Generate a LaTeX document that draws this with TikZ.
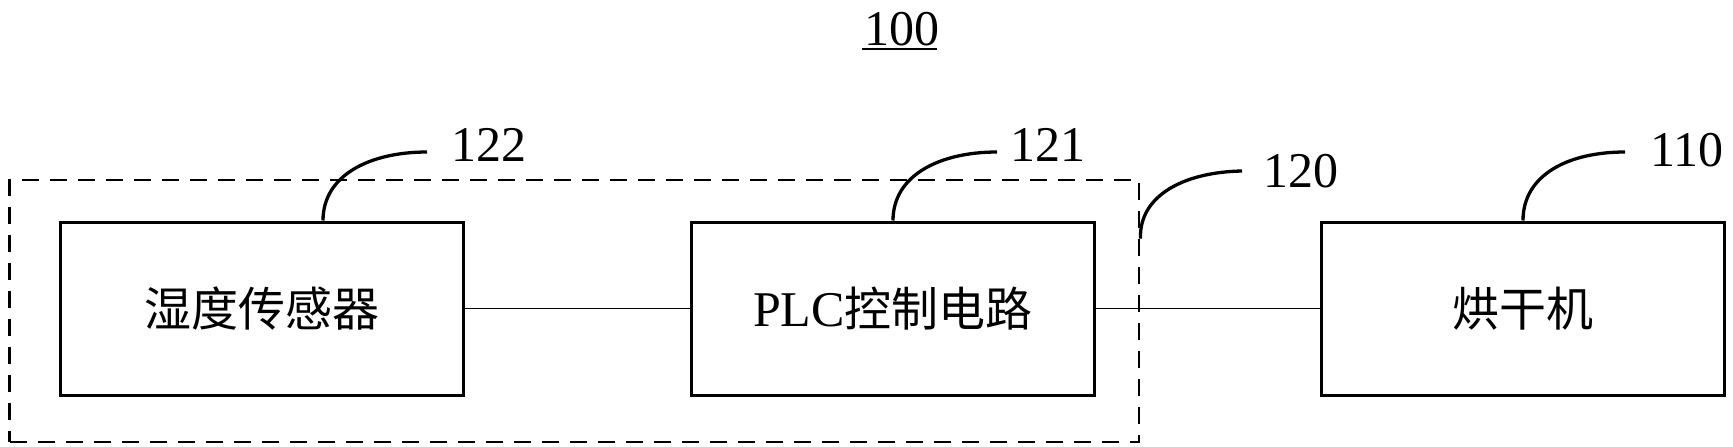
\documentclass[tikz,border=0pt]{standalone}
\usepackage{fontspec}
\setmainfont{Liberation Serif}
\newfontfamily\cjk{Noto Sans CJK SC}
\begin{document}
\begin{tikzpicture}[x=1pt,y=-1pt,
  blockbox/.style={draw, line width=3pt, minimum width=403pt, minimum height=173pt, inner sep=0pt,
    font=\cjk\fontsize{47}{56}\selectfont},
  groupbox/.style={draw, line width=2.8pt, dash pattern=on 17pt off 11pt, minimum width=1129.5pt, minimum height=262pt, inner sep=0pt},
  wire/.style={line width=1.8pt},
  leader/.style={line width=3.3pt},
  numlabel/.style={anchor=west, inner sep=0pt, font=\fontsize{50}{60}\selectfont}]
\useasboundingbox (0,0) rectangle (1733,447);
% title
\node[inner sep=0pt, font=\fontsize{50}{60}\selectfont] (title) at (902,29) {100};
\draw[line width=2.4pt] (862,49) -- (937,49);
% group
\node[groupbox] (group) at (574.3,311) {};
% blocks
\node[blockbox] (sensor) at (262,308.5) {湿度传感器};
\node[blockbox] (plc) at (893,308.5) {{\rmfamily\fontsize{50}{60}\selectfont PLC}控制电路};
\node[blockbox] (dryer) at (1523,308.5) {烘干机};
% wires
\draw[wire] (sensor.east) -- (plc.west);
\draw[wire] (plc.east) -- (dryer.west);
% labels
\node[numlabel] (n122) at (451,145) {122};
\node[numlabel] (n121) at (1010,145) {121};
\node[numlabel] (n120) at (1263,171) {120};
\node[numlabel] (n110) at (1650,150) {110};
% leaders
\draw[leader] ([xshift=61pt]sensor.north) .. controls (323,175) and (370,152) .. ([xshift=-24pt,yshift=-7pt]n122.west);
\draw[leader] (plc.north) .. controls (893,175) and (940,152) .. ([xshift=-13pt,yshift=-7pt]n121.west);
\draw[leader] ([yshift=-60pt]group.north east) .. controls (1139,195) and (1185,172) .. ([xshift=-21pt]n120.west);
\draw[leader] (dryer.north) .. controls (1523,175) and (1568,152) .. ([xshift=-25pt,yshift=-2pt]n110.west);
\end{tikzpicture}
\end{document}
